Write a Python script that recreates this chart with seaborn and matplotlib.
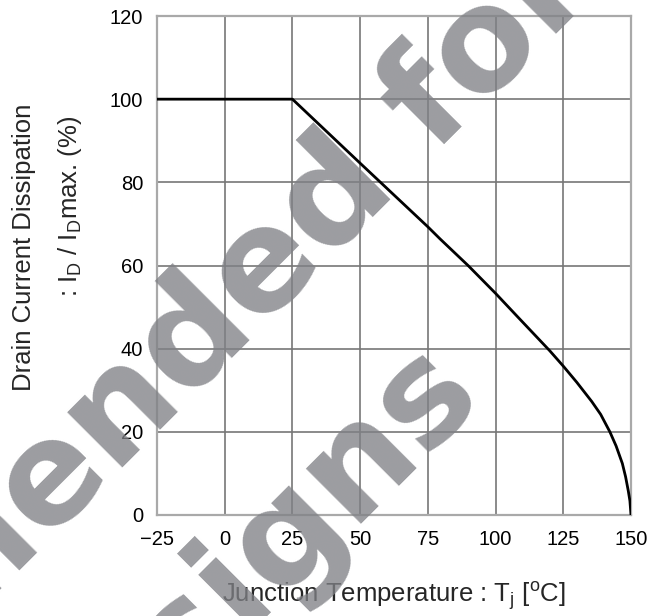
import matplotlib
matplotlib.use("Agg")
import matplotlib.pyplot as plt
import seaborn as sns
import pandas as pd

# ---- data ----
temp_c = [-25, 25, 50, 75, 79.5, 90, 100, 107.8, 120, 125, 130, 135.5, 138.8,
          142.2, 144.5, 146.8, 148, 149, 149.6, 150]
id_pct = [100, 100, 84.6, 69.3, 66.4, 59.9, 53.3, 47.9, 39.5, 35.8, 31.9, 27.3, 24.2,
          20.0, 16.6, 12.4, 9.2, 5.8, 3.4, 0]
x_ticks = [-25, 0, 25, 50, 75, 100, 125, 150]
y_ticks = [0, 20, 40, 60, 80, 100, 120]
watermark_lines = ["Not recommended for", "new designs"]

sns.set_style("white")
plt.rcParams["font.family"] = ["Liberation Sans", "DejaVu Sans"]
plt.rcParams["mathtext.fontset"] = "custom"
plt.rcParams["mathtext.rm"] = "Liberation Sans"
plt.rcParams["mathtext.it"] = "Liberation Sans:italic"
plt.rcParams["mathtext.bf"] = "Liberation Sans:bold"

W, H = 663, 616
fig = plt.figure(figsize=(W / 100, H / 100), dpi=100)
L, R, T, B = 157, 631, 16, 515
ax = fig.add_axes([L / W, 1 - B / H, (R - L) / W, (B - T) / H])

df = pd.DataFrame({"T": temp_c, "I": id_pct})
sns.lineplot(data=df, x="T", y="I", ax=ax, color="black", linewidth=2.0,
             sort=False, zorder=5)

ax.set_xlim(-25, 150)
ax.set_ylim(0, 120)
ax.set_xticks(x_ticks)
ax.set_yticks(y_ticks)
ax.set_xticklabels([str(v).replace("-", "\u2212") for v in x_ticks])
ax.grid(True, color="#777777", linewidth=1.2)
ax.set_axisbelow(True)
for s in ax.spines.values():
    s.set_color("#a9a9a9")
    s.set_linewidth(1.6)
ax.tick_params(axis="both", length=0, labelsize=14.5, colors="black")
ax.tick_params(axis="x", pad=11)
ax.tick_params(axis="y", pad=10)
ax.set_xlabel("")
ax.set_ylabel("")

# axis titles
fig.text(394 / W, 1 - 597 / H, r"Junction Temperature : T$_\mathrm{j}$ [$^\mathrm{o}$C]",
         ha="center", va="center", fontsize=18.5)
fig.text(24 / W, 1 - 247 / H, "Drain Current Dissipation", rotation=90,
         ha="center", va="center", fontsize=18.5)
fig.text(70 / W, 1 - 206 / H, r": I$_\mathrm{D}$ / I$_\mathrm{D}$max. (%)", rotation=90,
         ha="center", va="center", fontsize=18.5)

# watermark
wm_kw = dict(rotation=45, rotation_mode="anchor", ha="right", va="baseline",
             fontsize=103, fontweight="bold", family=["DejaVu Sans"],
             color=(128 / 255, 129 / 255, 134 / 255), alpha=0.78, zorder=10)
fig.text(598 / W, 1 - (-8) / H, watermark_lines[0], **wm_kw)
fig.text(485 / W, 1 - 400 / H, watermark_lines[1], **wm_kw)

fig.savefig("out.png", dpi=100)
